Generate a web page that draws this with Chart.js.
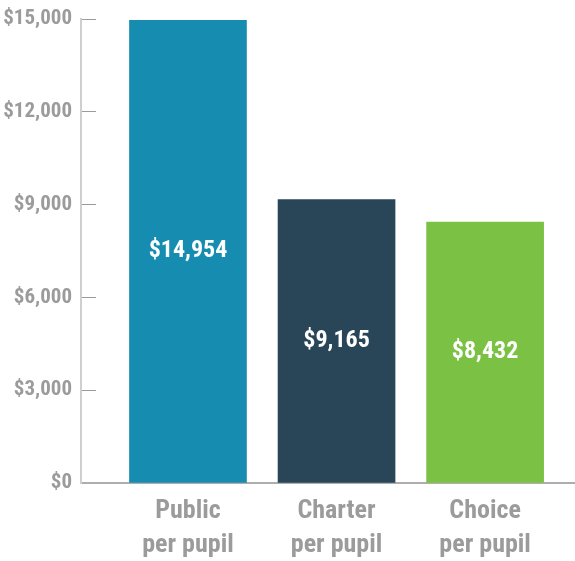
<!DOCTYPE html>
<html lang="en">
<head>
    <meta charset="UTF-8">
    <title>Per pupil funding</title>
    <style>
        html, body { margin: 0; padding: 0; background: #fff; }
        canvas { display: block; }
    </style>
</head>
<body>
    <canvas id="myChart" width="575" height="561"></canvas>

    <script src="https://cdn.jsdelivr.net/npm/chart.js"></script>
    <script>
    // Chart data
    const categories = [['Public', 'per pupil'], ['Charter', 'per pupil'], ['Choice', 'per pupil']];
    const perPupil = [14954, 9165, 8432];
    const barColors = ['#168db0', '#294659', '#7bc144'];
    const yTicks = [0, 3000, 6000, 9000, 12000, 15000];

    const gray = '#9b9b9b';
    const fontFamily = '"Roboto Condensed", "Liberation Sans", sans-serif';

    const money = v => '$' + v.toLocaleString('en-US');

    // Writes the value in white in the middle of each bar
    const valueLabels = {
        id: 'valueLabels',
        afterDatasetsDraw(chart) {
            const ctx = chart.ctx;
            const meta = chart.getDatasetMeta(0);
            ctx.save();
            ctx.fillStyle = '#ffffff';
            ctx.font = 'bold 24px ' + fontFamily;
            ctx.textAlign = 'center';
            ctx.textBaseline = 'middle';
            meta.data.forEach((bar, i) => {
                ctx.fillText(money(perPupil[i]), bar.x, (bar.y + bar.base) / 2);
            });
            ctx.restore();
        }
    };

    const ctx = document.getElementById('myChart').getContext('2d');
    const myChart = new Chart(ctx, {
        type: 'bar',
        data: {
            datasets: [{
                data: perPupil.map((v, i) => ({ x: i, y: v })),
                backgroundColor: barColors,
                barThickness: 117,
                borderWidth: 0
            }]
        },
        options: {
            responsive: false,
            animation: false,
            devicePixelRatio: 1,
            layout: { padding: { top: 19, left: 0, right: 0, bottom: 0 } },
            plugins: {
                legend: { display: false },
                tooltip: { enabled: false }
            },
            scales: {
                x: {
                    type: 'linear',
                    offset: false,
                    min: -0.72,
                    max: 2.605,
                    afterBuildTicks: s => { s.ticks = categories.map((c, i) => ({ value: i })); },
                    afterFit: s => { s.height = 78; s.paddingLeft = 0; s.paddingRight = 0; },
                    grid: { display: false, drawTicks: false },
                    border: { display: true, color: '#aeaeae', width: 2 },
                    ticks: {
                        padding: 12,
                        color: gray,
                        font: { family: fontFamily, weight: 'bold', size: 26, lineHeight: 1.3 },
                        callback: v => categories[v] || ''
                    }
                },
                y: {
                    min: 0,
                    max: 15000,
                    afterBuildTicks: s => { s.ticks = yTicks.map(v => ({ value: v })); },
                    afterFit: s => { s.width = 81; s.paddingTop = 0; s.paddingBottom = 0; },
                    grid: {
                        drawOnChartArea: false,
                        drawTicks: true,
                        tickLength: -15,
                        color: '#9b9b9b',
                        lineWidth: 1
                    },
                    border: { display: true, color: '#cfcfcf', width: 2 },
                    ticks: {
                        padding: 24,
                        color: gray,
                        font: { family: fontFamily, weight: 'bold', size: 21 },
                        callback: v => money(v)
                    }
                }
            }
        },
        plugins: [valueLabels]
    });
    </script>
</body>
</html>
